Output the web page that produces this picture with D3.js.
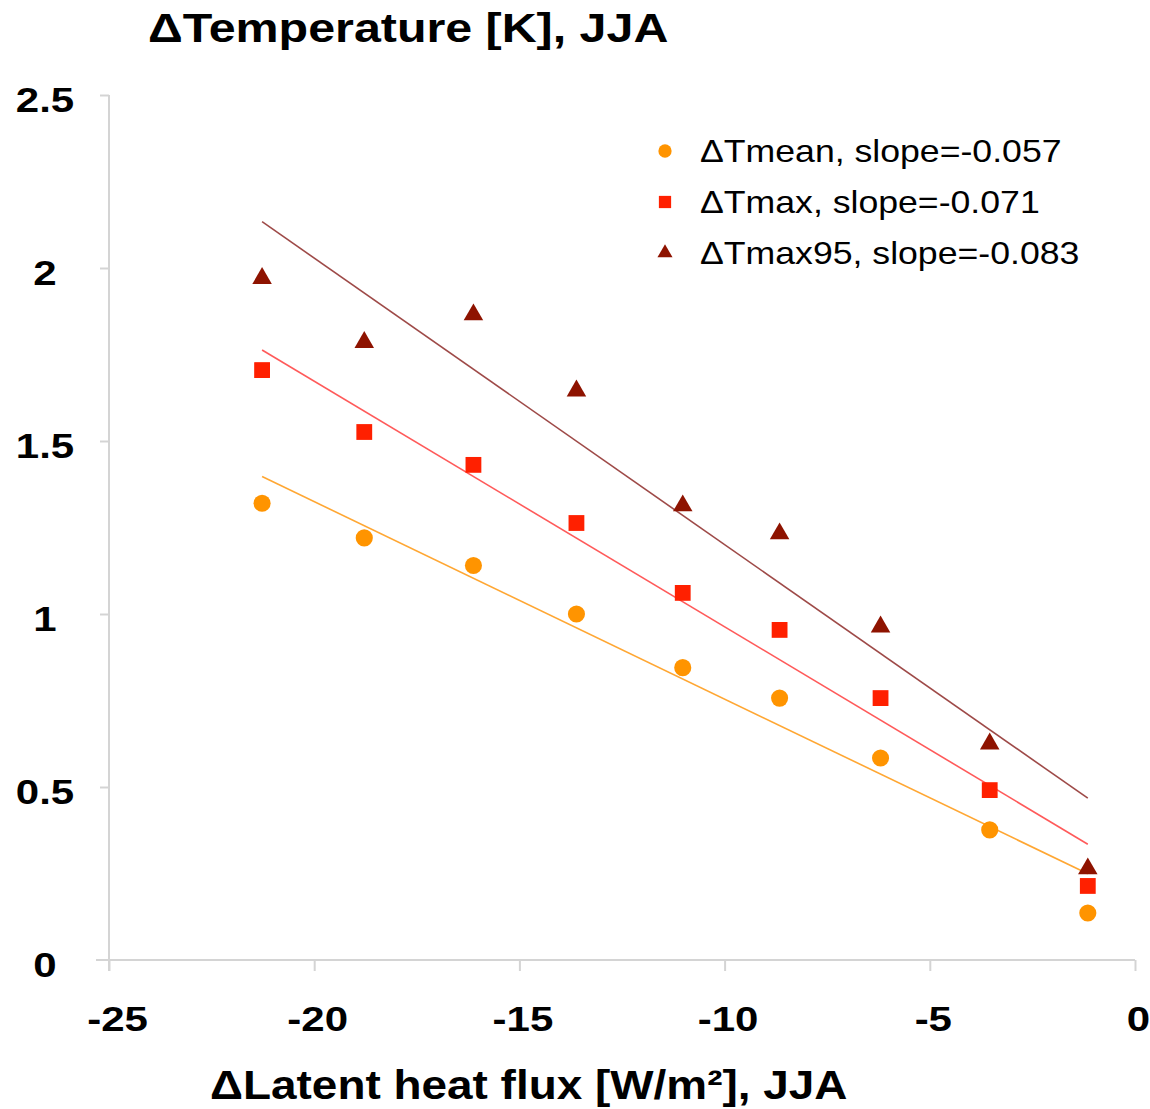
<!DOCTYPE html>
<html>
<head>
<meta charset="utf-8">
<script src="https://cdn.jsdelivr.net/npm/d3@7"></script>
<style>
  body { margin: 0; background: #fff; }
  text { font-family: "Liberation Sans", Arial, sans-serif; fill: #000; }
</style>
</head>
<body>
<div id="chart"></div>
<script>
// data
var fluxValues = [-21.27, -18.78, -16.12, -13.61, -11.02, -8.66, -6.20, -3.54, -1.15];
var tmeanValues = [1.32, 1.22, 1.14, 1.0, 0.845, 0.757, 0.584, 0.376, 0.136];
var tmaxValues = [1.705, 1.526, 1.431, 1.263, 1.061, 0.954, 0.757, 0.491, 0.214];
var tmax95Values = [1.97, 1.785, 1.865, 1.645, 1.313, 1.232, 0.963, 0.625, 0.264];
var seriesNames = ["\u0394Tmean, slope=-0.057", "\u0394Tmax, slope=-0.071", "\u0394Tmax95, slope=-0.083"];
var xTicks = [-25, -20, -15, -10, -5, 0];
var yTicks = [0, 0.5, 1, 1.5, 2, 2.5];

var width = 1150, height = 1109;
var margin = { top: 95, right: 15, bottom: 149, left: 109 };

var svg = d3.select("#chart")
  .append("svg")
  .attr("width", width)
  .attr("height", height);

var x = d3.scaleLinear()
  .domain([-25, 0])
  .range([margin.left, width - margin.right]);

var y = d3.scaleLinear()
  .domain([0, 2.5])
  .range([height - margin.bottom, margin.top]);

// the source picture is a bit wide, so text gets stretched sideways
function stretch(sel, sx, px, py) {
  sel.attr("transform", "translate(" + px + "," + py + ") scale(" + sx + ",1)")
    .attr("x", 0).attr("y", 0);
}

// least squares fit for the trend lines
function fit(xs, ys) {
  var mx = d3.mean(xs), my = d3.mean(ys);
  var sxy = d3.sum(xs, function(v, i) { return (v - mx) * (ys[i] - my); });
  var sxx = d3.sum(xs, function(v) { return (v - mx) * (v - mx); });
  var b = sxy / sxx;
  return function(v) { return my + b * (v - mx); };
}

var series = [
  { name: seriesNames[0], values: tmeanValues, color: "#ff9400", line: "#ffa733", symbol: d3.symbolCircle, size: 230 },
  { name: seriesNames[1], values: tmaxValues, color: "#ff2000", line: "#ff5a5a", symbol: d3.symbolSquare, size: 250 },
  { name: seriesNames[2], values: tmax95Values, color: "#8e1300", line: "#9e4a48", symbol: d3.symbolTriangle, size: 165 }
];

// axes
var xAxis = svg.append("g")
  .attr("transform", "translate(0," + y(0) + ")")
  .call(d3.axisBottom(x).tickValues(xTicks).tickSize(11).tickSizeOuter(0));
xAxis.select(".domain").attr("stroke", "#d4d4d4").attr("stroke-width", 2)
  .attr("d", "M" + (margin.left - 13) + ",0H" + x(0));
xAxis.selectAll(".tick line").attr("stroke", "#d4d4d4").attr("stroke-width", 2);
xAxis.selectAll(".tick text")
  .attr("dy", null)
  .style("font-size", "35px")
  .style("font-weight", "bold")
  .text(function(d) { return String(d); })
  .each(function(d) {
    stretch(d3.select(this), 1.2, d === -25 ? 8 : 3, 71);
  });

var yAxis = svg.append("g")
  .attr("transform", "translate(" + x(-25) + ",0)")
  .call(d3.axisLeft(y).tickValues(yTicks).tickSize(9).tickSizeOuter(0).tickFormat(function(d) { return String(d); }));
yAxis.select(".domain").attr("stroke", "#d4d4d4").attr("stroke-width", 2)
  .attr("d", "M0," + y(2.5) + "V" + (y(0) + 11));
yAxis.selectAll(".tick line").attr("stroke", "#d4d4d4").attr("stroke-width", 2);
yAxis.selectAll(".tick line").filter(function(d) { return d === 0; }).remove();
yAxis.selectAll(".tick text")
  .attr("text-anchor", "middle")
  .style("font-size", "35px")
  .style("font-weight", "bold")
  .each(function(d) {
    stretch(d3.select(this).attr("dy", "0.4em"), 1.2, -64, 2);
  });
svg.selectAll(".tick text").attr("font-family", null);

// trend lines
series.forEach(function(s) {
  var f = fit(fluxValues, s.values);
  var x0 = d3.min(fluxValues), x1 = d3.max(fluxValues);
  svg.append("line")
    .attr("x1", x(x0)).attr("y1", y(f(x0)))
    .attr("x2", x(x1)).attr("y2", y(f(x1)))
    .attr("stroke", s.line)
    .attr("stroke-width", 1.6);
});

// points
series.forEach(function(s) {
  svg.append("g").selectAll("path")
    .data(s.values)
    .enter()
    .append("path")
    .attr("d", d3.symbol().type(s.symbol).size(s.size))
    .attr("transform", function(d, i) { return "translate(" + x(fluxValues[i]) + "," + y(d) + ")"; })
    .attr("fill", s.color);
});

// legend
var legend = svg.append("g").attr("transform", "translate(665,151)");
series.forEach(function(s, i) {
  var row = legend.append("g").attr("transform", "translate(0," + i * 51 + ")");
  row.append("path")
    .attr("d", d3.symbol().type(s.symbol).size(s.size * 0.6))
    .attr("fill", s.color);
  stretch(row.append("text")
    .attr("dy", "0.36em")
    .style("font-size", "31px")
    .text(s.name), 1.15, 35, 0);
});

// titles
stretch(svg.append("text")
  .style("font-size", "41px")
  .style("font-weight", "bold")
  .text("\u0394Temperature [K], JJA"), 1.18, 148, 42);

stretch(svg.append("text")
  .style("font-size", "41px")
  .style("font-weight", "bold")
  .text("\u0394Latent heat flux [W/m\u00b2], JJA"), 1.12, 210, 1099);
</script>
</body>
</html>
